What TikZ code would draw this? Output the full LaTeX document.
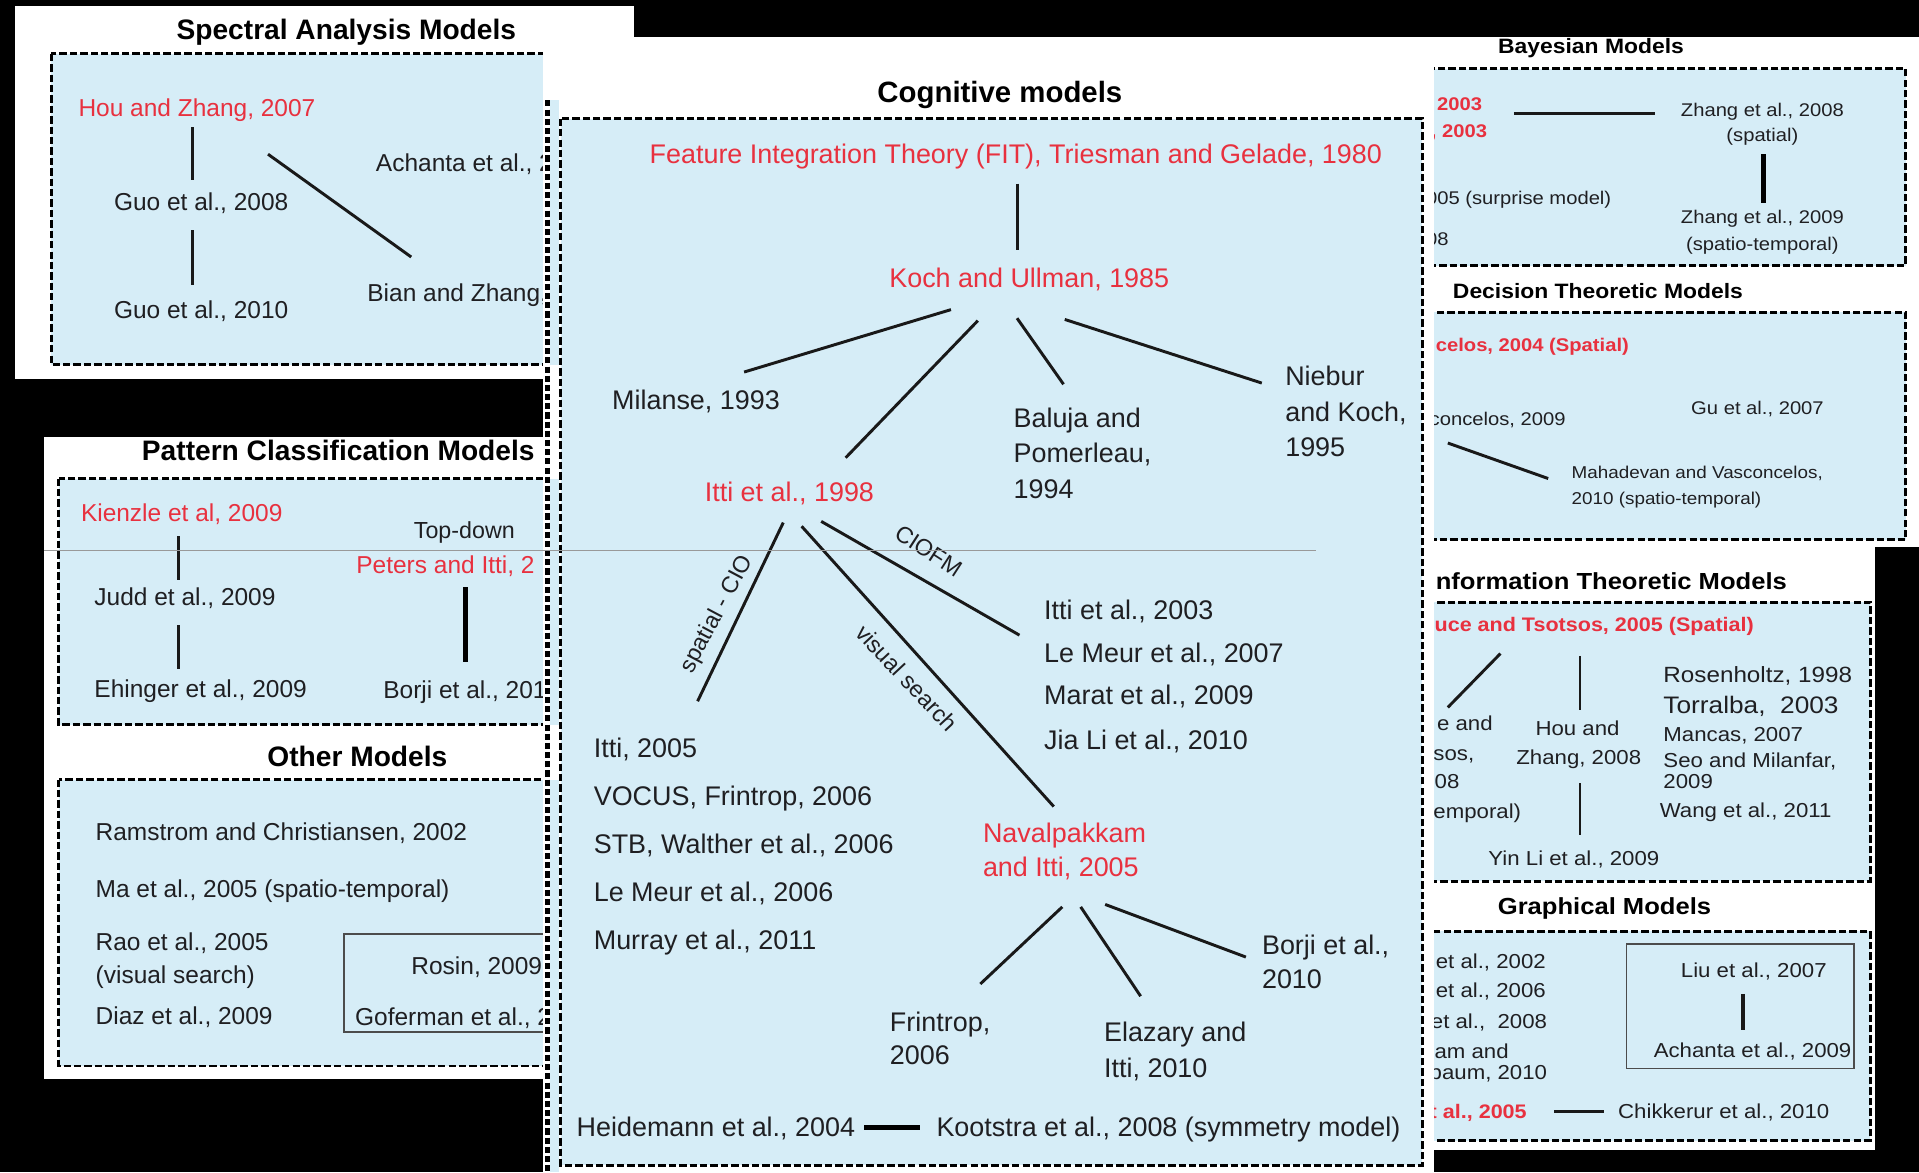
\documentclass[tikz,border=0pt]{standalone}
\usepackage{fontspec}
\setmainfont{Liberation Sans}
\newfontfamily\widef[FakeStretch=1.1]{Liberation Sans}
\definecolor{bluefill}{HTML}{D6EDF7}
\definecolor{redc}{HTML}{E8313F}
\definecolor{txt}{HTML}{1F1F22}
\begin{document}
\begin{tikzpicture}[x=1pt,y=-1pt,
 lt/.style={font=\fontsize{20}{24}\selectfont, text=txt, anchor=base west, inner sep=0pt},
 ltr/.style={lt, text=redc},
 ct/.style={font=\fontsize{22}{26}\selectfont, text=txt, anchor=base west, inner sep=0pt},
 ctr/.style={ct, text=redc},
 rt/.style={font=\widef\fontsize{15}{18}\selectfont, text=txt, anchor=base west, inner sep=0pt},
 rtm/.style={font=\widef\fontsize{16.5}{19}\selectfont, text=txt, anchor=base west, inner sep=0pt},
 rtr/.style={font=\widef\bfseries\fontsize{15}{18}\selectfont, text=redc, anchor=base west, inner sep=0pt},
 ttl/.style={font=\bfseries\fontsize{23}{27}\selectfont, text=black, anchor=base, inner sep=0pt},
 rttl/.style={font=\widef\bfseries\fontsize{17}{20}\selectfont, text=black, anchor=base, inner sep=0pt},
 lbl/.style={font=\fontsize{19}{22}\selectfont, text=txt, inner sep=0pt},
 conn/.style={draw=black!90, line width=2.4pt},
 thickconn/.style={draw=black, line width=4pt},
 dbox/.style={draw=black, fill=bluefill, line width=2.4pt, dash pattern=on 6pt off 2.5pt},
 sbox/.style={draw=black!70, line width=1.5pt},
]
\useasboundingbox (0,0) rectangle (1568,958);
\fill[black] (0,0) rectangle (1568,958);

%% ---------------- Spectral Analysis panel
\fill[white] (12,5) rectangle (518,310);
\node[ttl] (tspec) at (283,32) {Spectral Analysis Models};
\draw[dbox] (42,44) rectangle (470,298);
\node[ltr] (hou07) at (64,95) {Hou and Zhang, 2007};
\node[lt] (guo08) at (93,172) {Guo et al., 2008};
\node[lt] (guo10) at (93,260) {Guo et al., 2010};
\node[lt] (ach) at (307,140) {Achanta et al., 2};
\node[lt] (bian) at (300,246) {Bian and Zhang,};
\coordinate (s1a) at (157,104); \coordinate (s1b) at (157,147);
\coordinate (s2a) at (157,188); \coordinate (s2b) at (157,233);
\coordinate (s3a) at (219,126); \coordinate (s3b) at (336,210);
\draw[conn] (s1a) -- (s1b);
\draw[conn] (s2a) -- (s2b);
\draw[conn] (s3a) -- (s3b);

%% ---------------- Pattern classification + Other panel
\fill[white] (36,357) rectangle (470,882);
\node[ttl, anchor=base east] (tpat) at (437,376) {Pattern Classification Models};
\draw[dbox] (48,391) rectangle (470,592);
\node[ltr] (kien) at (66,426) {Kienzle et al, 2009};
\node[lt] (judd) at (77,495) {Judd et al., 2009};
\node[lt] (ehin) at (77,570) {Ehinger et al., 2009};
\node[lt, font=\fontsize{19}{22}\selectfont] (topdown) at (338,440) {Top-down};
\node[ltr] (peters) at (291,469) {Peters and Itti, 2};
\node[lt] (borjiL) at (313,571) {Borji et al., 201};
\coordinate (p1a) at (146,438); \coordinate (p1b) at (146,474);
\coordinate (p2a) at (146,511); \coordinate (p2b) at (146,547);
\coordinate (p3a) at (380,480); \coordinate (p3b) at (380,541);
\draw[conn] (p1a) -- (p1b);
\draw[conn] (p2a) -- (p2b);
\draw[thickconn] (p3a) -- (p3b);

\node[ttl] (toth) at (292,626) {Other Models};
\draw[dbox] (48,637) rectangle (470,871);
\node[lt] (ram) at (78,687) {Ramstrom and Christiansen, 2002};
\node[lt] (ma) at (78,733) {Ma et al., 2005 (spatio-temporal)};
\node[lt] (rao) at (78,777) {Rao et al., 2005};
\node[lt] (raovs) at (78,804) {(visual search)};
\node[lt] (diaz) at (78,837) {Diaz et al., 2009};
\draw[sbox] (281,763) rectangle (470,843);
\node[lt] (rosin) at (336,796) {Rosin, 2009};
\node[lt] (gof) at (290,838) {Goferman et al., 2};

%% ---------------- Right top panel (Bayesian + Decision)
\fill[white] (1172,30) rectangle (1568,447);
\node[rttl] (tbay) at (1300,44) {Bayesian Models};
\draw[dbox] (1150,56) rectangle (1557,217);
\node[rtr] (b2003a) at (1174,90) {2003};
\node[rtr] (b2003b) at (1169,112) {, 2003};
\node[rt] (bsurp) at (1165,167) {005 (surprise model)};
\node[rt] (b08) at (1165,201) {08};
\node[rt, anchor=base] (zh08) at (1440,95) {Zhang et al., 2008};
\node[rt, anchor=base] (zh08b) at (1440,116) {(spatial)};
\node[rt, anchor=base] (zh09) at (1440,183) {Zhang et al., 2009};
\node[rt, anchor=base] (zh09b) at (1440,205) {(spatio-temporal)};
\coordinate (b1a) at (1237,93); \coordinate (b1b) at (1352,93);
\coordinate (b2a) at (1441,126); \coordinate (b2b) at (1441,166);
\draw[conn] (b1a) -- (b1b);
\draw[thickconn] (b2a) -- (b2b);

\node[rttl, anchor=base west] (tdec) at (1187,244) {Decision Theoretic Models};
\draw[dbox] (1150,255) rectangle (1557,441);
\node[rtr] (dgao) at (1173,287) {celos, 2004 (Spatial)};
\node[rt] (dgao09) at (1168,348) {concelos, 2009};
\node[rt, anchor=base] (dgu) at (1436,339) {Gu et al., 2007};
\node[rt, font=\widef\fontsize{14}{17}\selectfont] (dmah) at (1284,391) {Mahadevan and Vasconcelos,};
\node[rt, font=\widef\fontsize{14}{17}\selectfont] (dmah2) at (1284,412) {2010 (spatio-temporal)};
\coordinate (d1a) at (1183,362); \coordinate (d1b) at (1265,391);
\draw[conn] (d1a) -- (d1b);

%% ---------------- Right bottom panel (Information + Graphical)
\fill[white] (1172,447) rectangle (1532,940);
\node[rttl, anchor=base west, font=\widef\bfseries\fontsize{19}{23}\selectfont] (tinf) at (1173,482) {nformation Theoretic Models};
\draw[dbox] (1150,492) rectangle (1528,720);
\node[rtr, font=\widef\bfseries\fontsize{16}{19}\selectfont] (ibruce) at (1172,516) {uce and Tsotsos, 2005 (Spatial)};
\node[rtm] (ie1) at (1174,597) {e and};
\node[rtm] (ie2) at (1166,621) {tsos,};
\node[rtm] (ie3) at (1162,644) {008};
\node[rtm] (ie4) at (1166,669) {temporal)};
\node[rtm, anchor=base] (ihou) at (1289,601) {Hou and};
\node[rtm, anchor=base] (ihou2) at (1290,625) {Zhang, 2008};
\node[rtm, anchor=base] (iyin) at (1286,707) {Yin Li et al., 2009};
\node[rtm, font=\widef\fontsize{18}{21}\selectfont] (iros) at (1359,558) {Rosenholtz, 1998};
\node[rtm, font=\widef\fontsize{19.5}{22}\selectfont] (itor) at (1359,583) {Torralba,~~2003};
\node[rtm] (iman) at (1359,606) {Mancas, 2007};
\node[rtm] (iseo) at (1359,627) {Seo and Milanfar,};
\node[rtm] (iseo2) at (1359,644) {2009};
\node[rtm] (iwang) at (1356,668) {Wang et al., 2011};
\coordinate (i1a) at (1226,534); \coordinate (i1b) at (1183,578);
\coordinate (i2a) at (1291,536); \coordinate (i2b) at (1291,580);
\coordinate (i3a) at (1291,640); \coordinate (i3b) at (1291,682);
\draw[conn] (i1a) -- (i1b);
\draw[conn] (i2a) -- (i2b);
\draw[conn] (i3a) -- (i3b);

\node[rttl, font=\widef\bfseries\fontsize{19}{22}\selectfont] (tgra) at (1311,747) {Graphical Models};
\draw[dbox] (1150,761) rectangle (1528,932);
\node[rtm] (g1) at (1173,791) {et al., 2002};
\node[rtm] (g2) at (1173,815) {et al., 2006};
\node[rtm] (g3) at (1169,840) {et al.,~~2008};
\node[rtm] (g4) at (1172,865) {am and};
\node[rtm] (g5) at (1168,882) {baum, 2010};
\node[rtr, font=\widef\bfseries\fontsize{16}{19}\selectfont] (g6) at (1168,914) {t al., 2005};
\node[rtm] (gchik) at (1322,914) {Chikkerur et al., 2010};
\draw[sbox] (1329,771) rectangle (1515,873);
\node[rtm, anchor=base] (gliu) at (1433,799) {Liu et al., 2007};
\node[rtm, anchor=base] (gach) at (1432,864) {Achanta et al., 2009};
\coordinate (g1a) at (1270,908); \coordinate (g1b) at (1311,908);
\coordinate (g2a) at (1424,812); \coordinate (g2b) at (1424,842);
\draw[conn] (g1a) -- (g1b);
\draw[conn, line width=3pt] (g2a) -- (g2b);

%% ---------------- Cognitive panel (on top)
\fill[white] (444,30) rectangle (1172,958);
\fill[bluefill] (449,82) rectangle (457,298);
\fill[bluefill] (449,391) rectangle (457,592);
\fill[bluefill] (449,637) rectangle (457,958);
\draw[black, line width=4pt, dash pattern=on 5pt off 2.5pt] (447.5,82) -- (447.5,958);
\node[ttl, font=\bfseries\fontsize{24}{28}\selectfont] (tcog) at (817,84) {Cognitive models};
\draw[dbox] (458,97) rectangle (1162,952);

\node[ctr, anchor=base] (fit) at (830,134) {Feature Integration Theory (FIT), Triesman and Gelade, 1980};
\node[ctr, anchor=base] (koch) at (841,235) {Koch and Ullman, 1985};
\node[ct] (mil) at (500,335) {Milanse, 1993};
\node[ct] (bal1) at (828,349) {Baluja and};
\node[ct] (bal2) at (828,378) {Pomerleau,};
\node[ct] (bal3) at (828,407) {1994};
\node[ct] (nie1) at (1050,315) {Niebur};
\node[ct] (nie2) at (1050,344) {and Koch,};
\node[ct] (nie3) at (1050,373) {1995};
\node[ctr, anchor=base] (itti98) at (645,410) {Itti et al., 1998};
\node[ct] (c1) at (853,506) {Itti et al., 2003};
\node[ct] (c2) at (853,541) {Le Meur et al., 2007};
\node[ct] (c3) at (853,576) {Marat et al., 2009};
\node[ct] (c4) at (853,612) {Jia Li et al., 2010};
\node[ct] (sp1) at (485,619) {Itti, 2005};
\node[ct] (sp2) at (485,658) {VOCUS, Frintrop, 2006};
\node[ct] (sp3) at (485,697) {STB, Walther et al., 2006};
\node[ct] (sp4) at (485,737) {Le Meur et al., 2006};
\node[ct] (sp5) at (485,776) {Murray et al., 2011};
\node[ctr] (nav1) at (803,688) {Navalpakkam};
\node[ctr] (nav2) at (803,716) {and Itti, 2005};
\node[ct] (fr1) at (727,843) {Frintrop,};
\node[ct] (fr2) at (727,870) {2006};
\node[ct] (el1) at (902,851) {Elazary and};
\node[ct] (el2) at (902,880) {Itti, 2010};
\node[ct] (bo1) at (1031,780) {Borji et al.,};
\node[ct] (bo2) at (1031,808) {2010};
\node[ct] (heid) at (471,929) {Heidemann et al., 2004};
\node[ct] (koot) at (765,929) {Kootstra et al., 2008 (symmetry model)};

\node[lbl, rotate=62] (lspat) at (586,502) {spatial - CIO};
\node[lbl, rotate=-47] (lvis) at (741,554) {visual search};
\node[lbl, rotate=-33] (lcio) at (759,450) {CIOFM};

\coordinate (k0a) at (831,150); \coordinate (k0b) at (831,204);
\coordinate (k1a) at (777,253); \coordinate (k1b) at (608,304);
\coordinate (k2a) at (799,262); \coordinate (k2b) at (691,374);
\coordinate (k3a) at (831,260); \coordinate (k3b) at (869,314);
\coordinate (k4a) at (870,261); \coordinate (k4b) at (1031,313);
\coordinate (t1a) at (640,427); \coordinate (t1b) at (570,573);
\coordinate (t2a) at (655,430); \coordinate (t2b) at (861,659);
\coordinate (t3a) at (671,426); \coordinate (t3b) at (833,519);
\coordinate (n1a) at (868,741); \coordinate (n1b) at (801,804);
\coordinate (n2a) at (883,741); \coordinate (n2b) at (932,814);
\coordinate (n3a) at (903,739); \coordinate (n3b) at (1018,782);
\coordinate (h1a) at (706,921); \coordinate (h1b) at (752,921);
\draw[conn] (k0a) -- (k0b);
\draw[conn] (k1a) -- (k1b);
\draw[conn] (k2a) -- (k2b);
\draw[conn] (k3a) -- (k3b);
\draw[conn] (k4a) -- (k4b);
\draw[conn] (t1a) -- (t1b);
\draw[conn] (t2a) -- (t2b);
\draw[conn] (t3a) -- (t3b);
\draw[conn] (n1a) -- (n1b);
\draw[conn] (n2a) -- (n2b);
\draw[conn] (n3a) -- (n3b);
\draw[thickconn] (h1a) -- (h1b);

%% faint scan line
\draw[black!40, line width=0.7pt] (36,450) -- (1075,450);
\end{tikzpicture}
\end{document}
